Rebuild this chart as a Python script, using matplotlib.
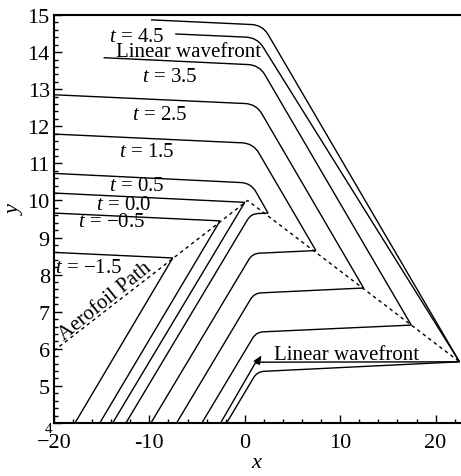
import matplotlib.pyplot as plt
import numpy as np
import matplotlib.transforms as mtransforms
from matplotlib.path import Path
from matplotlib.patches import PathPatch

plt.rcParams['font.family'] = ['Liberation Serif', 'DejaVu Serif']
plt.rcParams['mathtext.fontset'] = 'custom'
plt.rcParams['mathtext.it'] = 'Liberation Serif:italic'
plt.rcParams['mathtext.rm'] = 'Liberation Serif'
plt.rcParams['font.size'] = 15

# aerofoil path (dashed)
path_x = [-20, 0.3, 22.5]
path_y = [5.95, 10.0, 5.65]

# wavefronts: vertices + corner radius (px) of the inner vertices, 0 = sharp
wf_m15_x = [-20, -7.55, -17.8]
wf_m15_y = [8.60, 8.45, 4.0]
wf_m15_r = [0]

wf_m05_x = [-20, -2.6, -15.2]
wf_m05_y = [9.66, 9.45, 4.0]
wf_m05_r = [0]

wf_00_x = [-20, 0.0, -13.85]
wf_00_y = [10.2, 9.95, 4.0]
wf_00_r = [0]

wf_05_x = [-20, 0.64, 2.44, 0.65, -12.46]
wf_05_y = [10.73, 10.47, 9.66, 9.64, 4.0]
wf_05_r = [10, 0, 7]

wf_15_x = [-20, 0.88, 7.45, 0.8, -9.84]
wf_15_y = [11.79, 11.54, 8.65, 8.57, 4.0]
wf_15_r = [11, 0, 7]

wf_25_x = [-20, 1.19, 12.45, 0.98, -7.15]
wf_25_y = [12.85, 12.6, 7.64, 7.5, 4.0]
wf_25_r = [11, 0, 7]

wf_35_x = [-14.8, 1.51, 17.45, 1.2, -4.5]
wf_35_y = [13.85, 13.65, 6.64, 6.45, 4.0]
wf_35_r = [11, 0, 7]

wf_45_x = [-9.84, 1.86, 22.5, 1.3, -1.91]
wf_45_y = [14.87, 14.73, 5.65, 5.385, 4.0]
wf_45_r = [11, 0, 7]

lin_x = [-7.3, 1.3, 22.5, 1.15, -2.54]
lin_y = [14.49, 14.39, 5.65, 5.64, 4.0]
lin_r = [11, 0, 0]

wavefronts = [
    (wf_m15_x, wf_m15_y, wf_m15_r),
    (wf_m05_x, wf_m05_y, wf_m05_r),
    (wf_00_x, wf_00_y, wf_00_r),
    (wf_05_x, wf_05_y, wf_05_r),
    (wf_15_x, wf_15_y, wf_15_r),
    (wf_25_x, wf_25_y, wf_25_r),
    (wf_35_x, wf_35_y, wf_35_r),
    (wf_45_x, wf_45_y, wf_45_r),
    (lin_x, lin_y, lin_r),
]

label_text = ["$t$ = 4.5", "$t$ = 3.5", "$t$ = 2.5", "$t$ = 1.5", "$t$ = 0.5",
              "$t$ = 0.0", "$t$ = \u22120.5", "$t$ = \u22121.5"]
label_x = [-11.3, -7.85, -8.9, -10.3, -11.3, -12.7, -14.0, -16.4]
label_y = [14.31, 13.23, 12.2, 11.21, 10.28, 9.77, 9.32, 8.06]

xticks = [-20, -10, 0, 10, 20]
xtick_labels = ["\u221220", "-10", "0", "10", "20"]
yticks = list(range(4, 16))

fig = plt.figure(figsize=(4.61, 4.77), dpi=100)
ax = fig.add_axes([0.1171, 0.1111, 0.8829, 0.8553])
ax.set_xlim(-20, 22.66)
ax.set_ylim(4, 15)


def rounded(xs, ys, rs):
    pts = ax.transData.transform(np.column_stack([xs, ys]))
    verts = [pts[0]]
    codes = [Path.MOVETO]
    for i in range(1, len(pts) - 1):
        p = pts[i]
        r = rs[i - 1]
        if r > 0:
            a = pts[i - 1] - p
            b = pts[i + 1] - p
            pa = p + a / np.linalg.norm(a) * min(r, np.linalg.norm(a) / 2)
            pb = p + b / np.linalg.norm(b) * min(r, np.linalg.norm(b) / 2)
            verts += [pa, p, pb]
            codes += [Path.LINETO, Path.CURVE3, Path.CURVE3]
        else:
            verts.append(p)
            codes.append(Path.LINETO)
    verts.append(pts[-1])
    codes.append(Path.LINETO)
    data = ax.transData.inverted().transform(np.array(verts))
    return Path(data, codes)


for xs, ys, rs in wavefronts:
    ax.add_patch(PathPatch(rounded(xs, ys, rs), fill=False, lw=1.0,
                           edgecolor='black', capstyle='butt'))

ax.plot(path_x, path_y, color='black', lw=1.0, linestyle=(0, (2.5, 2.5)))

for txt, lx, ly in zip(label_text, label_x, label_y):
    ax.text(lx, ly, txt, ha='center', va='baseline')

ax.text(-5.9, 13.9, "Linear wavefront", ha='center', va='baseline')
ax.text(10.7, 5.73, "Linear wavefront", ha='center', va='baseline')
ax.text(-14.6, 7.3, "Aerofoil Path", ha='center', va='center',
        rotation=39, rotation_mode='anchor')
ax.annotate("", xy=(1.75, 5.82), xytext=(1.2, 5.6),
            arrowprops=dict(arrowstyle='-|>,head_length=0.35,head_width=0.15',
                            lw=0.8, color='black', shrinkA=0, shrinkB=0))

ax.set_xticks(xticks)
ax.set_xticklabels(xtick_labels)
ax.set_yticks(yticks)
ax.xaxis.set_minor_locator(plt.MultipleLocator(2))
ax.yaxis.set_minor_locator(plt.MultipleLocator(0.2))
ax.tick_params(which='both', direction='in', top=False, right=False, width=1.0,
               labelsize=16)
ax.tick_params(axis='x', which='major', length=6, pad=7)
ax.tick_params(axis='y', which='major', length=6, pad=3)
ax.tick_params(which='minor', length=3)

# small corner label for y = 4
lab4 = ax.get_yticklabels()[0]
lab4.set_fontsize(11)
lab4.set_transform(lab4.get_transform() +
                   mtransforms.ScaledTranslation(0.03, -0.04, fig.dpi_scale_trans))

ax.spines['right'].set_visible(False)
for s in ['left', 'bottom', 'top']:
    ax.spines[s].set_linewidth(1.5)

ax.set_xlabel("$x$", fontsize=16, labelpad=1)
ax.set_ylabel("$y$", fontsize=16)
ax.yaxis.set_label_coords(-0.07, 0.53)

fig.savefig("out.png", dpi=100)
